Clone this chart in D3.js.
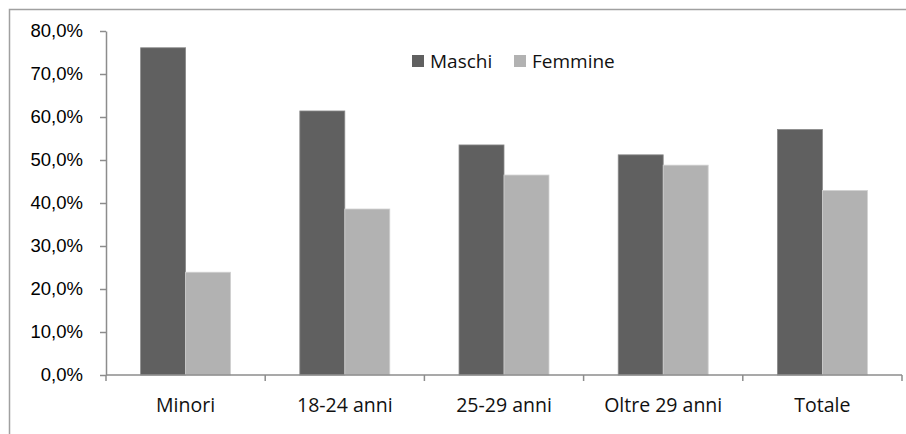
<!DOCTYPE html>
<html>
<head>
<meta charset="utf-8">
<script src="https://cdn.jsdelivr.net/npm/d3@7"></script>
<style>
  body { margin: 0; background: #fff; }
  svg { display: block; }
  .axis path, .axis line { stroke: #8c8c8c; stroke-width: 1.5; }
  .axis-y text { font-family: "Liberation Sans", Arial, sans-serif; font-size: 18.5px; fill: #000; }
  .axis-x text { font-family: "Open Sans", sans-serif; font-size: 19.5px; fill: #111; }
  .legend text { font-family: "Open Sans", sans-serif; font-size: 19px; fill: #111; }
</style>
</head>
<body>
<svg id="chart" width="906" height="434"></svg>
<script>
const categories = ["Minori", "18-24 anni", "25-29 anni", "Oltre 29 anni", "Totale"]
const seriesNames = ["Maschi", "Femmine"]
const maschi = [76.1, 61.4, 53.5, 51.2, 57.1]
const femmine = [23.9, 38.6, 46.5, 48.8, 42.9]
const yTicks = [0, 10, 20, 30, 40, 50, 60, 70, 80]
const colors = ["#606060", "#b2b2b2"]

var svg = d3.select("#chart");

// outer frame (only top and left visible in the crop)
svg.append("path")
   .attr("d", "M9.5,434 V9.5 H906")
   .attr("fill", "none")
   .attr("stroke", "#a0a0a0")
   .attr("stroke-width", 1.5);

var margin = {left: 106, top: 31, right: 4, bottom: 59};
var width = 906 - margin.left - margin.right;
var height = 434 - margin.top - margin.bottom;

var g = svg.append("g")
           .attr("transform", "translate(" + margin.left + "," + margin.top + ")");

var x = d3.scaleBand()
          .domain(categories)
          .range([0, width]);

var xInner = d3.scaleBand()
               .domain(seriesNames)
               .range([0, x.bandwidth() * 0.565]);

var y = d3.scaleLinear()
          .domain([0, 80])
          .range([height, 0]);

var fmt = function (d) { return d.toFixed(1).replace(".", ",") + "%"; };

// y axis
var yaxis = g.append("g")
             .attr("class", "axis axis-y")
             .call(d3.axisLeft(y).tickValues(yTicks).tickSize(6).tickSizeOuter(0).tickPadding(17).tickFormat(fmt));

// bars
var rows = categories.map(function (c, i) { return [c, [maschi[i], femmine[i]]]; });
var groups = g.selectAll(".group")
              .data(rows)
              .enter()
              .append("g")
              .attr("class", "group")
              .attr("transform", function (d) {
                  return "translate(" + (x(d[0]) + (x.bandwidth() - xInner.range()[1]) / 2) + ",0)";
              });

groups.selectAll("rect")
      .data(function (d) { return d[1].map(function (v, j) { return {name: seriesNames[j], value: v, j: j}; }); })
      .enter()
      .append("rect")
      .attr("x", function (d) { return xInner(d.name); })
      .attr("y", function (d) { return y(d.value); })
      .attr("width", xInner.bandwidth())
      .attr("height", function (d) { return height - y(d.value); })
      .attr("fill", function (d) { return colors[d.j]; })
      .attr("stroke", function (d) { return d.j === 0 ? "#8a8a8a" : "#d0d0d0"; })
      .attr("stroke-width", 0.8);

// x axis with ticks at category boundaries
var xaxis = g.append("g")
             .attr("class", "axis axis-x")
             .attr("transform", "translate(0," + height + ")");
xaxis.append("line")
     .attr("x1", 0).attr("x2", width)
     .attr("y1", 0).attr("y2", 0);
xaxis.selectAll(".tick-b")
     .data(categories.concat([null]))
     .enter()
     .append("line")
     .attr("class", "tick-b")
     .attr("x1", function (d) { return d === null ? width : x(d); })
     .attr("x2", function (d) { return d === null ? width : x(d); })
     .attr("y1", 0).attr("y2", 6);
xaxis.selectAll("text")
     .data(categories)
     .enter()
     .append("text")
     .attr("x", function (d) { return x(d) + x.bandwidth() / 2; })
     .attr("y", 37)
     .attr("text-anchor", "middle")
     .text(function (d) { return d; });

// legend
var legend = svg.append("g").attr("class", "legend");
var legendX = [412, 514];
seriesNames.forEach(function (name, i) {
    legend.append("rect")
          .attr("x", legendX[i]).attr("y", 55)
          .attr("width", 12).attr("height", 12)
          .attr("fill", colors[i]);
    legend.append("text")
          .attr("x", legendX[i] + 18).attr("y", 68)
          .text(name);
});
</script>
</body>
</html>
